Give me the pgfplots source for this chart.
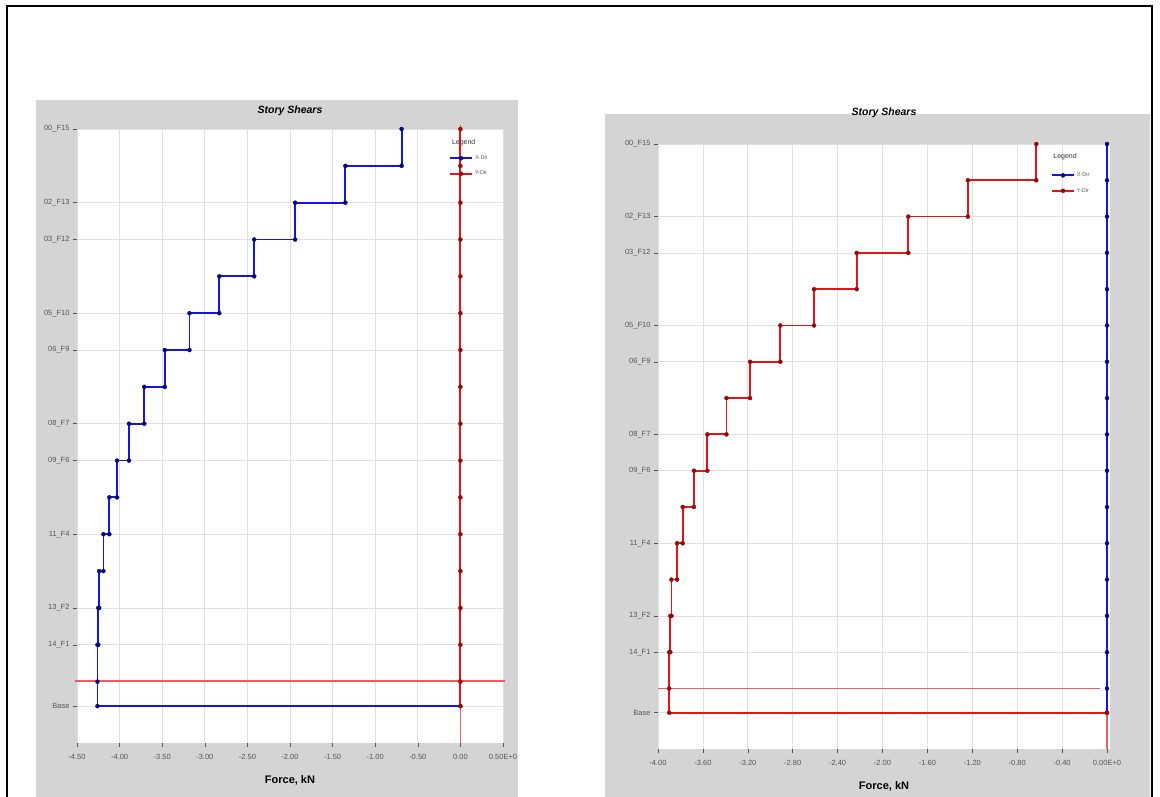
\documentclass[border=0pt]{standalone}
\usepackage{fontspec}
\setmainfont{Liberation Sans}
\usepackage{pgfplots}
\pgfplotsset{compat=1.18}
\definecolor{panelgray}{RGB}{212,212,212}
\definecolor{tickgray}{RGB}{85,85,85}
\definecolor{xblue}{RGB}{20,20,230}
\definecolor{xbluemark}{RGB}{10,10,120}
\definecolor{yred}{RGB}{230,20,20}
\definecolor{yredmark}{RGB}{150,10,10}
\definecolor{refred}{RGB}{245,90,90}
\pgfplotsset{
 storystyle/.style={
  scale only axis, clip=false,
  axis background/.style={fill=white},
  axis line style={draw=none},
  xtick pos=bottom, ytick pos=left,
  tick align=outside, major tick length=4pt,
  tick style={draw=tickgray, line width=0.5pt},
  xmajorgrids, ymajorgrids,
  grid style={draw=black!12, line width=0.7pt},
  ymin=-3, ymax=47,
  ytick={0,5,8,14,20,23,29,32,38,41,47},
  yticklabels={Base,14\_F1,13\_F2,11\_F4,09\_F6,08\_F7,06\_F9,05\_F10,03\_F12,02\_F13,00\_F15},
  ticklabel style={font=\fontsize{7.5}{8.5}\selectfont, text=tickgray},
  xticklabel style={yshift=-4pt},
  title style={font=\fontsize{10.5}{12}\selectfont\bfseries\itshape, at={(axis description cs:0.5,1)}, anchor=center, yshift=12pt},
  xlabel style={font=\fontsize{11}{12}\selectfont\bfseries, at={(axis description cs:0.5,0)}, anchor=center, yshift=-37pt},
  legend style={draw=none, fill=none, font=\fontsize{5.5}{6}\selectfont, text=tickgray, row sep=6pt, inner sep=1pt, cells={anchor=west}},
  legend image code/.code={\draw[mark repeat=2,mark phase=2,#1] plot coordinates {(0pt,0pt) (11pt,0pt) (22pt,0pt)};},
 },
 xdir/.style={xblue, line width=1.8pt, mark=*, mark size=2pt, mark options={fill=xbluemark, draw=xbluemark, line width=0.4pt}},
 ydir/.style={yred, line width=1.8pt, mark=*, mark size=2pt, mark options={fill=yredmark, draw=yredmark, line width=0.4pt}},
 refline/.style={draw=refred, line width=1.3pt, forget plot, mark=none},
}
\begin{document}
\begin{tikzpicture}
\useasboundingbox (0pt,0pt) rectangle (1160pt,797pt);
\fill[white] (0pt,0pt) rectangle (1160pt,797pt);
\fill[panelgray] (36pt,0pt) rectangle (518pt,697pt);
\fill[panelgray] (605pt,0pt) rectangle (1150pt,683pt);
\draw[line width=2pt] (7pt,-10pt) -- (7pt,791pt) -- (1152pt,791pt) -- (1152pt,-10pt);

% Left panel: X-Dir
\begin{axis}[storystyle,
  at={(77pt,54pt)}, anchor=south west,
  width=426pt, height=614pt,
  xmin=-4.5, xmax=0.5,
  xtick={-4.5,-4,-3.5,-3,-2.5,-2,-1.5,-1,-0.5,0,0.5},
  xticklabels={-4.50,-4.00,-3.50,-3.00,-2.50,-2.00,-1.50,-1.00,-0.50,0.00,0.50E+0},
  title={Story Shears}, xlabel={Force, kN},
  legend style={at={(axis description cs:0.871,0.962)}, anchor=north west},
]
\addplot[refline] coordinates {(-4.52,2.05) (0.52,2.05)};
\addplot[refline] coordinates {(0,-3) (0,47.3)};
\addplot[xdir] coordinates {
(-0.69,47) (-0.69,44) (-1.35,44) (-1.35,41) (-1.94,41) (-1.94,38)
(-2.42,38) (-2.42,35) (-2.83,35) (-2.83,32) (-3.18,32) (-3.18,29)
(-3.47,29) (-3.47,26) (-3.71,26) (-3.71,23) (-3.89,23) (-3.89,20)
(-4.03,20) (-4.03,17) (-4.12,17) (-4.12,14) (-4.19,14) (-4.19,11)
(-4.24,11) (-4.24,8) (-4.25,8) (-4.25,5) (-4.26,5) (-4.26,2)
(-4.26,0) (0,0)};
\addlegendentry{X-Dir}
\addplot[ydir] coordinates {
(0,47) (0,44) (0,41) (0,38) (0,35) (0,32) (0,29) (0,26) (0,23)
(0,20) (0,17) (0,14) (0,11) (0,8) (0,5) (0,2) (0,0)};
\addlegendentry{Y-Dir}
\node[font=\fontsize{7}{8}\selectfont, text=black!80, anchor=west] at (axis description cs:0.872,0.977) {Legend};
\end{axis}

% Right panel: Y-Dir
\begin{axis}[storystyle,
  at={(658pt,48pt)}, anchor=south west,
  width=452pt, height=605pt,
  xmin=-4, xmax=0.0267,
  xtick={-4,-3.6,-3.2,-2.8,-2.4,-2,-1.6,-1.2,-0.8,-0.4,0},
  xticklabels={-4.00,-3.60,-3.20,-2.80,-2.40,-2.00,-1.60,-1.20,-0.80,-0.40,0.00E+0},
  title={Story Shears}, xlabel={Force, kN},
  title style={yshift=13pt},
  legend style={at={(axis description cs:0.867,0.958)}, anchor=north west},
]
\addplot[refline] coordinates {(-4,2) (-0.06,2)};
\addplot[refline] coordinates {(0,-3) (0,0)};
\addplot[xdir] coordinates {
(0,47) (0,44) (0,41) (0,38) (0,35) (0,32) (0,29) (0,26) (0,23)
(0,20) (0,17) (0,14) (0,11) (0,8) (0,5) (0,2) (0,0)};
\addlegendentry{X-Dir}
\addplot[ydir] coordinates {
(-0.63,47) (-0.63,44) (-1.24,44) (-1.24,41) (-1.77,41) (-1.77,38)
(-2.23,38) (-2.23,35) (-2.61,35) (-2.61,32) (-2.91,32) (-2.91,29)
(-3.18,29) (-3.18,26) (-3.39,26) (-3.39,23) (-3.56,23) (-3.56,20)
(-3.68,20) (-3.68,17) (-3.78,17) (-3.78,14) (-3.83,14) (-3.83,11)
(-3.88,11) (-3.88,8) (-3.89,8) (-3.89,5) (-3.90,5) (-3.90,2)
(-3.90,0) (0,0)};
\addlegendentry{Y-Dir}
\node[font=\fontsize{7}{8}\selectfont, text=black!80, anchor=west] at (axis description cs:0.867,0.979) {Legend};
\end{axis}
\end{tikzpicture}
\end{document}
